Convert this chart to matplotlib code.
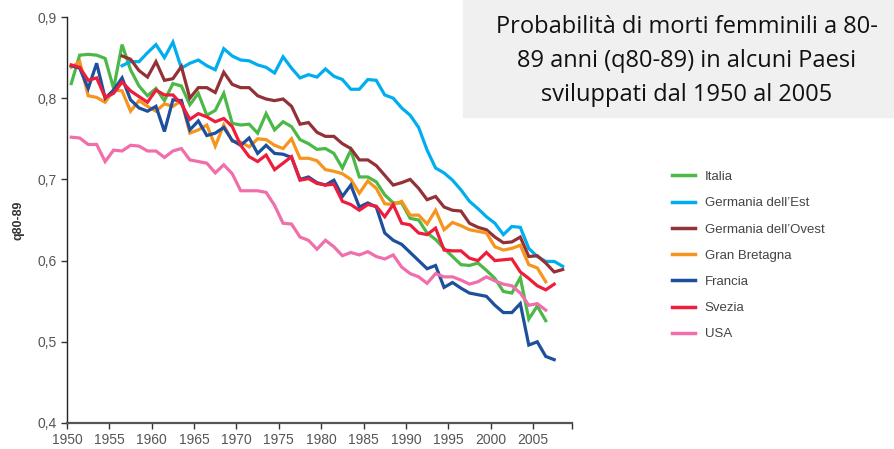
import matplotlib
matplotlib.use("Agg")
import matplotlib.pyplot as plt
import numpy as np

# q80-89, female
italia_start = 1950
italia = [.818, .853, .854, .853, .849, .812, .866, .835, .815, .803,
          .812, .797, .818, .815, .792, .806, .779, .785, .806, .769,
          .767, .768, .757, .781, .761, .771, .765, .749, .744, .737,
          .738, .732, .714, .736, .703, .703, .697, .681, .671, .671,
          .652, .650, .634, .626, .615, .605, .595, .594, .597, .588,
          .578, .562, .560, .579, .528, .544, .526]

germ_est_start = 1956
germ_est = [.840, .845, .845, .856, .866, .850, .869, .837, .843, .847,
            .840, .835, .861, .852, .847, .846, .841, .838, .831, .851,
            .837, .825, .829, .826, .836, .827, .823, .811, .811, .823,
            .822, .804, .800, .788, .779, .764, .736, .714, .708, .699,
            .687, .673, .664, .654, .646, .632, .642, .641, .615, .605,
            .599, .599, .593]

germ_ovest_start = 1956
germ_ovest = [.852, .848, .834, .826, .845, .822, .824, .839, .800, .813,
              .813, .807, .832, .817, .813, .813, .803, .799, .797, .799,
              .790, .768, .770, .758, .753, .753, .744, .738, .724, .724,
              .717, .705, .693, .696, .700, .689, .675, .679, .666, .662,
              .661, .646, .641, .638, .629, .622, .623, .629, .605, .606,
              .597, .586, .589]

gran_bretagna_start = 1950
gran_bretagna = [.838, .845, .803, .801, .795, .810, .809, .784, .797, .790,
                 .784, .793, .790, .797, .757, .761, .767, .741, .767, .747,
                 .746, .740, .750, .749, .742, .738, .750, .726, .726, .723,
                 .712, .710, .707, .700, .683, .698, .689, .670, .669, .673,
                 .656, .656, .645, .662, .638, .647, .643, .638, .636, .634,
                 .617, .613, .615, .619, .595, .591, .574]

francia_start = 1950
francia = [.840, .837, .812, .843, .800, .810, .825, .798, .788, .784,
           .790, .759, .798, .797, .761, .772, .754, .757, .764, .748,
           .742, .751, .732, .742, .732, .731, .727, .700, .703, .696,
           .693, .699, .679, .693, .666, .671, .666, .634, .625, .620,
           .610, .600, .590, .594, .567, .573, .566, .560, .558, .556,
           .545, .536, .536, .547, .496, .500, .482, .478]

svezia_start = 1950
svezia = [.841, .838, .822, .825, .801, .806, .820, .809, .802, .795,
          .810, .804, .804, .793, .774, .781, .777, .771, .775, .765,
          .742, .728, .722, .730, .712, .720, .728, .699, .701, .695,
          .693, .694, .673, .669, .662, .669, .667, .654, .669, .646,
          .644, .634, .632, .640, .613, .612, .612, .603, .600, .610,
          .600, .601, .602, .586, .578, .569, .564, .571]

usa_start = 1950
usa = [.752, .751, .743, .743, .722, .736, .735, .742, .741, .735,
       .735, .727, .735, .738, .724, .722, .720, .708, .718, .707,
       .686, .686, .686, .684, .668, .646, .645, .629, .625, .614,
       .625, .617, .606, .610, .607, .611, .605, .602, .607, .592,
       .584, .580, .572, .584, .580, .580, .576, .571, .574, .580,
       .575, .571, .569, .560, .545, .547, .539]

names = ["Italia", "Germania dell\u2019Est", "Germania dell\u2019Ovest",
         "Gran Bretagna", "Francia", "Svezia", "USA"]
starts = [italia_start, germ_est_start, germ_ovest_start, gran_bretagna_start,
          francia_start, svezia_start, usa_start]
series = [italia, germ_est, germ_ovest, gran_bretagna, francia, svezia, usa]
colors = ["#4cb848", "#00aeef", "#933236", "#f7941d", "#1c4f9c", "#ee1d3c", "#f06eaa"]

title = "Probabilit\u00e0 di morti femminili a 80-\n89 anni (q80-89) in alcuni Paesi\nsviluppati dal 1950 al 2005"

sans = ["Liberation Sans", "DejaVu Sans"]

fig = plt.figure(figsize=(8.95, 4.49), dpi=100)
ax = fig.add_axes([67 / 895, 26 / 449, (572 - 67) / 895, (423 - 17) / 449])

for name, start, vals, col in zip(names, starts, series, colors):
    yrs = np.arange(start, start + len(vals)) + 0.5  # mid-year
    ax.plot(yrs, vals, color=col, lw=2.3, label=name, solid_joinstyle="miter")

ax.set_xlim(1950, 2009.6)
ax.set_ylim(0.4, 0.9)
ax.set_xticks(list(range(1950, 2010, 5)) + [2009.6])
ax.set_xticklabels([str(y) for y in range(1950, 2010, 5)] + [""])
ax.set_yticks(np.arange(0.4, 0.91, 0.1))
ax.set_yticklabels(["0,4", "0,5", "0,6", "0,7", "0,8", "0,9"])

for s in ["top", "right"]:
    ax.spines[s].set_visible(False)
ax.spines["left"].set_color("#222222")
ax.spines["left"].set_linewidth(1.0)
ax.spines["bottom"].set_color("#555555")
ax.spines["bottom"].set_linewidth(1.6)
ax.tick_params(axis="both", direction="out", length=4, width=1,
               colors="#333333", labelcolor="#555555", labelsize=10)
for lab in ax.get_xticklabels() + ax.get_yticklabels():
    lab.set_family(sans)

ax.set_ylabel("q80-89", fontsize=9, fontweight="bold", color="#333333",
              family=sans, labelpad=9)

leg = fig.legend(loc="upper left", bbox_to_anchor=(660 / 895, 1 - 159 / 449),
                 frameon=False, handlelength=1.75, handletextpad=0.75,
                 labelspacing=1.06, prop={"family": sans, "size": 9.5})
for t in leg.get_texts():
    t.set_color("#444444")
for h in leg.get_lines():
    h.set_linewidth(2.5)

# title box
fig.patches.append(plt.Rectangle((463 / 895, 1 - 117 / 449), 432 / 895, 117 / 449,
                                 transform=fig.transFigure, color="#f0f0f0", zorder=0))
fig.text(687 / 895, 1 - 61 / 449, title, ha="center", va="center",
         fontsize=17, family=["Open Sans", "DejaVu Sans"], color="#111111",
         linespacing=1.55)

fig.savefig("out.png", dpi=100)
plt.close(fig)
